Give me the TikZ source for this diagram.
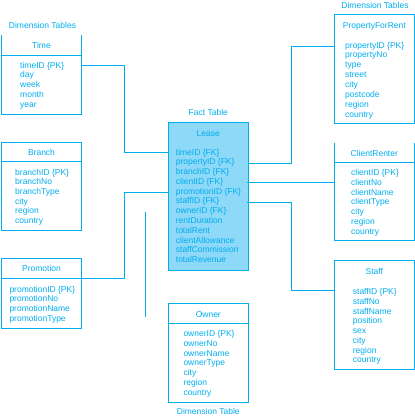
\documentclass[tikz,border=0pt]{standalone}
\usepackage{fontspec}
\setmainfont{Liberation Sans}
\definecolor{ln}{HTML}{00AEEF}
\definecolor{fl}{HTML}{8ED8F8}
\tikzset{
  conn/.style={draw=ln, line width=1pt},
  box/.style={draw=ln, line width=1pt, rectangle, inner sep=0pt, outer sep=0pt},
  openbox/.style={rectangle, inner sep=0pt, outer sep=0pt},
  txt/.style={text=ln, inner sep=0pt, font=\fontsize{8.5}{9.8}\selectfont, anchor=base},
  attr/.style={txt, anchor=base west},
}
\begin{document}
\begin{tikzpicture}[x=1pt,y=-1pt]
\useasboundingbox (0,0) rectangle (415,416);

% ---------- boxes ----------
\node[openbox, minimum width=80pt, minimum height=79pt] (time) at (41.5,74.5) {};
\draw[conn] (time.north west) -- (time.south west) -- (time.south east) -- (time.north east);
\draw[conn] (time.west |- 0,55.5) -- (time.east |- 0,55.5);

\node[box, minimum width=80pt, minimum height=87.3pt] (branch) at (41.5,186.35) {};
\draw[conn] (branch.west |- 0,161.7) -- (branch.east |- 0,161.7);

\node[box, minimum width=80pt, minimum height=70pt] (promo) at (41.5,293.3) {};
\draw[conn] (promo.west |- 0,278.3) -- (promo.east |- 0,278.3);

\node[box, fill=fl, minimum width=80pt, minimum height=147.5pt] (lease) at (208.3,196.25) {};

\node[box, minimum width=80pt, minimum height=99pt] (owner) at (208.3,352.8) {};
\draw[conn] (owner.west |- 0,323.3) -- (owner.east |- 0,323.3);

\node[box, minimum width=80pt, minimum height=109pt] (prop) at (374.3,68.8) {};

\node[openbox, minimum width=80pt, minimum height=97pt] (client) at (374.3,191.8) {};
\draw[conn] (client.north west) -- (client.south west) -- (client.south east) -- (client.north east);
\draw[conn] (client.west |- 0,162.7) -- (client.east |- 0,162.7);

\node[box, minimum width=80pt, minimum height=108.5pt] (staff) at (374.3,314.75) {};

% ---------- labels ----------
\node[txt] (dimL) at (42.5,28) {Dimension Tables};
\node[txt] (dimR) at (375,8) {Dimension Tables};
\node[txt] (factL) at (208.3,115.5) {Fact Table};
\node[txt] (dimB) at (208.3,414.8) {Dimension Table};

% ---------- titles ----------
\node[txt] (timeT) at (time |- 0,48) {Time};
\node[txt] (branchT) at (branch |- 0,155) {Branch};
\node[txt] (promoT) at (promo |- 0,271) {Promotion};
\node[txt] (leaseT) at (lease |- 0,136) {Lease};
\node[txt] (ownerT) at (owner |- 0,317) {Owner};
\node[txt] (propT) at (prop |- 0,28) {PropertyForRent};
\node[txt] (clientT) at (client |- 0,156) {ClientRenter};
\node[txt] (staffT) at (staff |- 0,274.5) {Staff};

% ---------- attributes ----------
\foreach \t [count=\i from 0] in {timeID \{PK\},day,week,month,year}
  \node[attr] (time-\i) at (20,68.2+9.75*\i) {\t};
\foreach \t [count=\i from 0] in {branchID \{PK\},branchNo,branchType,city,region,country}
  \node[attr] (branch-\i) at (15,175+9.73*\i) {\t};
\foreach \t [count=\i from 0] in {promotionID \{PK\},promotionNo,promotionName,promotionType}
  \node[attr] (promo-\i) at (9.3,292+9.7*\i) {\t};
\foreach \t [count=\i from 0] in {timeID \{FK\},propertyID \{FK\},branchID \{FK\},clientID \{FK\},promotionID \{FK\},staffID \{FK\},ownerID \{FK\},rentDuration,totalRent,clientAllowance,staffCommission,totalRevenue}
  \node[attr] (lease-\i) at (175.7,155+9.79*\i) {\t};
\foreach \t [count=\i from 0] in {ownerID \{PK\},ownerNo,ownerName,ownerType,city,region,country}
  \node[attr] (owner-\i) at (183.3,336.5+9.77*\i) {\t};
\foreach \t [count=\i from 0] in {propertyID \{PK\},propertyNo,type,street,city,postcode,region,country}
  \node[attr] (prop-\i) at (345,48+9.9*\i) {\t};
\foreach \t [count=\i from 0] in {clientID \{PK\},clientNo,clientName,clientType,city,region,country}
  \node[attr] (client-\i) at (351,175.5+9.83*\i) {\t};
\foreach \t [count=\i from 0] in {staffID \{PK\},staffNo,staffName,position,sex,city,region,country}
  \node[attr] (staff-\i) at (352.7,294.5+9.76*\i) {\t};

% ---------- connectors ----------
\coordinate (jt) at (124.5,152.3);
\coordinate (jp) at (124.3,192.3);
\coordinate (jq) at (291.3,46.3);
\coordinate (js) at (291.3,290);
\coordinate (oa) at (145.3,212.3);
\coordinate (ob) at (145.3,316.7);

\draw[conn] (time.east |- 0,65.3) -| (jt) -- (lease.west |- jt);
\draw[conn] (promo.east |- 0,278.3) -| (jp) -- (lease.west |- jp);
\draw[conn] (oa) -- (ob);
\draw[conn] (lease.east |- 0,163.3) -| (jq) -- (prop.west |- jq);
\draw[conn] (246.7,182.3) -- (client.west |- 0,182.3);
\draw[conn] (246.7,202.3) -| (js) -- (staff.west |- js);
\end{tikzpicture}
\end{document}
